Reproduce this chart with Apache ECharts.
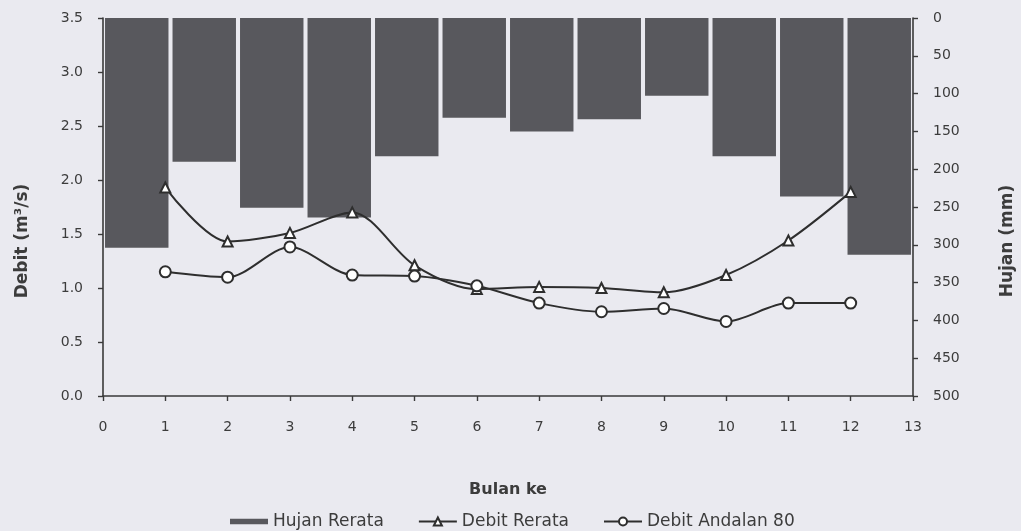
<!DOCTYPE html>
<html>
<head>
<meta charset="utf-8">
<script src="https://cdn.jsdelivr.net/npm/echarts@6/dist/echarts.min.js"></script>
<style>
html,body{margin:0;padding:0;background:#eaeaf0;}
#c{width:1021px;height:531px;}
</style>
</head>
<body>
<div id="c"></div>
<script>
const months = [1,2,3,4,5,6,7,8,9,10,11,12];
const monthCats = ['1','2','3','4','5','6','7','8','9','10','11','12'];
const hujanRerata = [304,190,251,264,183,132,150,134,103,183,236,313];
const debitRerata = [1.93,1.43,1.51,1.70,1.21,0.99,1.01,1.00,0.96,1.12,1.44,1.89];
const debitAndalan80 = [1.15,1.10,1.38,1.12,1.11,1.02,0.86,0.78,0.81,0.69,0.86,0.86];

const font = '"DejaVu Sans", "Liberation Sans", Arial, sans-serif';
const txt = '#3c3c3c';
const axisLine = {show:true, lineStyle:{color:'#3a3a3a', width:1.6}};
const tick = {show:true, length:5, lineStyle:{color:'#3a3a3a', width:1.4}};

const chart = echarts.init(document.getElementById('c'));
chart.setOption({
  backgroundColor:'#eaeaf0',
  animation:false,
  textStyle:{fontFamily:font},
  grid:{left:103, right:108, top:18, bottom:135, containLabel:false, outerBoundsMode:'none'},
  legend:{
    bottom:-4, left:225, itemGap:34, itemWidth:38, itemHeight:10,
    textStyle:{color:txt, fontSize:17, fontFamily:font},
    data:[
      {name:'Hujan Rerata', icon:'path://M0,0h40v6h-40z'},
      {name:'Debit Rerata'},
      {name:'Debit Andalan 80'}
    ]
  },
  xAxis:[
    {type:'value', min:0, max:13, interval:1, position:'bottom',
     name:'Bulan ke', nameLocation:'middle', nameGap:86,
     nameTextStyle:{color:txt, fontWeight:'bold', fontSize:16, fontFamily:font},
     axisLine:axisLine, axisTick:tick,
     axisLabel:{color:txt, fontSize:14, margin:24, fontFamily:font},
     splitLine:{show:false}},
    {type:'category', data:monthCats, boundaryGap:true, show:false, gridIndex:0}
  ],
  yAxis:[
    {type:'value', min:0, max:3.5, interval:0.5, position:'left',
     name:'Debit (m³/s)', nameLocation:'middle', nameGap:72, nameRotate:90,
     nameTextStyle:{color:txt, fontWeight:'bold', fontSize:17, fontFamily:font, padding:[0,68,0,0]},
     axisLine:axisLine, axisTick:tick,
     axisLabel:{color:txt, fontSize:14, margin:20, fontFamily:font, formatter:v=>v.toFixed(1)},
     splitLine:{show:false}},
    {type:'value', min:0, max:500, interval:50, position:'right', inverse:true,
     name:'Hujan (mm)', nameLocation:'middle', nameGap:86, nameRotate:90,
     nameTextStyle:{color:txt, fontWeight:'bold', fontSize:17, fontFamily:font, padding:[0,68,0,0]},
     axisLine:axisLine, axisTick:tick,
     axisLabel:{color:txt, fontSize:14, margin:20, fontFamily:font},
     splitLine:{show:false}}
  ],
  series:[
    {name:'Hujan Rerata', type:'bar', xAxisIndex:1, yAxisIndex:1,
     data:hujanRerata, barCategoryGap:'6%',
     itemStyle:{color:'#58585d'}, z:1},
    {name:'Debit Rerata', type:'line', xAxisIndex:0, yAxisIndex:0,
     data:months.map((m,i)=>[m, debitRerata[i]]), smooth:0.3,
     symbol:'emptyTriangle', symbolSize:10,
     lineStyle:{color:'#2e2e2e', width:2},
     itemStyle:{color:'#2e2e2e', borderWidth:2}, z:3},
    {name:'Debit Andalan 80', type:'line', xAxisIndex:0, yAxisIndex:0,
     data:months.map((m,i)=>[m, debitAndalan80[i]]), smooth:0.3,
     symbol:'emptyCircle', symbolSize:11,
     lineStyle:{color:'#2e2e2e', width:2},
     itemStyle:{color:'#2e2e2e', borderWidth:2.4}, z:4}
  ]
});
</script>
</body>
</html>
